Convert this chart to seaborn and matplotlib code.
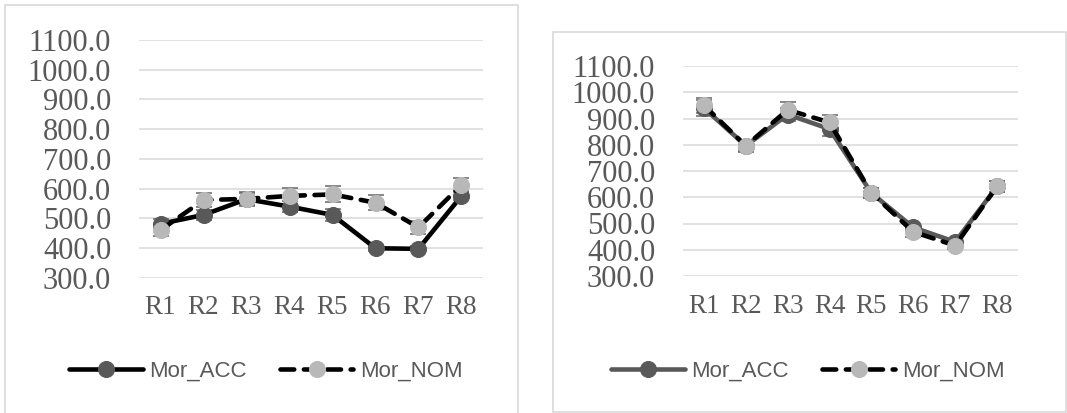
import matplotlib
matplotlib.use('Agg')
import matplotlib.pyplot as plt
from matplotlib.patches import Rectangle
import numpy as np
import pandas as pd
import seaborn as sns

# mean RT per round, two conditions, two panels
rounds = ['R1', 'R2', 'R3', 'R4', 'R5', 'R6', 'R7', 'R8']

left_acc = [482, 512, 565, 540, 512, 400, 398, 576]
left_acc_err = [15, 18, 20, 18, 20, 8, 8, 15]
left_nom = [461, 562, 566, 576, 581, 553, 470, 613]
left_nom_err = [20, 25, 24, 28, 27, 25, 23, 23]

right_acc = [940, 796, 915, 860, 616, 485, 430, 641]
right_acc_err = [32, 20, 25, 25, 18, 15, 12, 20]
right_nom = [950, 796, 933, 885, 616, 468, 416, 641]
right_nom_err = [28, 22, 28, 30, 20, 18, 15, 22]

yticks = [300, 400, 500, 600, 700, 800, 900, 1000, 1100]

W, H = 1067, 413
sns.set_theme(style='white')
plt.rcParams['font.family'] = ['Liberation Serif', 'DejaVu Serif']

fig = plt.figure(figsize=(W / 100, H / 100), dpi=100)

txt = '#595959'
grid = '#d9d9d9'


def px_axes(x0, x1, ytop, ybot):
    return fig.add_axes([x0 / W, (H - ybot) / H, (x1 - x0) / W, (ybot - ytop) / H])


def draw_panel(ax, acc, acc_err, nom, nom_err, acc_line, xpad):
    xs = np.arange(len(rounds))
    df = pd.DataFrame({'x': xs, 'acc': acc, 'nom': nom})
    ax.errorbar(xs, acc, yerr=acc_err, fmt='none', ecolor='#666666',
                elinewidth=1.1, capsize=5.5, capthick=1.1, zorder=2)
    ax.errorbar(xs, nom, yerr=nom_err, fmt='none', ecolor='#666666',
                elinewidth=1.1, capsize=5.5, capthick=1.1, zorder=2)
    sns.lineplot(data=df, x='x', y='acc', ax=ax, color=acc_line, lw=3.3,
                 marker='o', markersize=11.5, markerfacecolor='#595959',
                 markeredgecolor='#595959', solid_capstyle='round', zorder=3)
    h_acc = ax.lines[-1]
    sns.lineplot(data=df, x='x', y='nom', ax=ax, color='black', lw=3.3,
                 marker='o', markersize=11.5, markerfacecolor='#b8b8b8',
                 markeredgecolor='#b8b8b8', zorder=4)
    h_nom = ax.lines[-1]
    h_nom.set_linestyle((0, (3.0, 2.1)))
    h_nom.set_dash_capstyle('round')

    ax.set_xlim(-0.5, len(rounds) - 0.5)
    ax.set_ylim(300, 1100)
    ax.set_yticks(yticks)
    ax.set_yticklabels([f'{v:.1f}' for v in yticks])
    ax.set_xticks(xs)
    ax.set_xticklabels(rounds)
    ax.set_xlabel('')
    ax.set_ylabel('')
    ax.grid(axis='y', color=grid, lw=1.1)
    ax.grid(axis='x', visible=False)
    for s in ax.spines.values():
        s.set_visible(False)
    ax.tick_params(axis='y', length=0, pad=20, labelsize=22, labelcolor=txt)
    ax.tick_params(axis='x', length=0, pad=xpad, labelsize=19.5, labelcolor=txt)
    return h_acc, h_nom


ax1 = px_axes(139, 483, 40, 278)
ax2 = px_axes(683, 1018, 66, 276)

h1 = draw_panel(ax1, left_acc, left_acc_err, left_nom, left_nom_err, 'black', 12)
h2 = draw_panel(ax2, right_acc, right_acc_err, right_nom, right_nom_err, '#595959', 13)

for h, cx in [(h1, 266), (h2, 808)]:
    leg = fig.legend(h, ['Mor_ACC', 'Mor_NOM'], loc='center',
                     bbox_to_anchor=(cx / W, 1 - 371 / H), ncol=2, frameon=False,
                     handlelength=3.3, handletextpad=0.3, columnspacing=1.5,
                     prop={'family': 'Liberation Sans', 'size': 16})
    for t in leg.get_texts():
        t.set_color(txt)

# chart area borders
fig.patches.append(Rectangle((5 / W, -0.05), 513 / W, 1.05 - 5 / H,
                             transform=fig.transFigure, fill=False,
                             ec=grid, lw=1.2))
fig.patches.append(Rectangle((553 / W, (H - 412) / H), 513 / W, 380 / H,
                             transform=fig.transFigure, fill=False,
                             ec=grid, lw=1.2))

fig.savefig('out.png', dpi=100)
